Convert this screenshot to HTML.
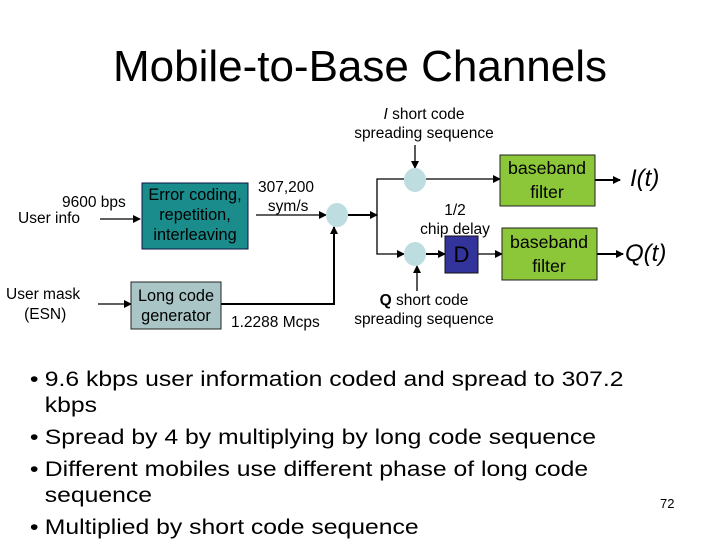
<html><head><style>
body{margin:0;width:720px;height:540px;background:#fff;position:relative;overflow:hidden;font-family:"Liberation Sans",sans-serif}
.t{position:absolute;white-space:nowrap;color:#000}
.b{position:relative;padding-left:12px;margin-bottom:6px}
.b span{position:absolute;left:-1px;top:0}
</style></head><body>
<div class="t" style="left:0;width:720px;text-align:center;top:42px;font-size:44px">Mobile-to-Base Channels</div>
<svg width="720" height="540" style="position:absolute;left:0;top:0">
<defs><marker id="a" markerWidth="8" markerHeight="8" refX="7" refY="4" orient="auto" markerUnits="userSpaceOnUse"><path d="M0,0 L8,4 L0,8z"/></marker></defs>
<g stroke="#000" stroke-width="1.3" fill="none">
<line x1="100" y1="219" x2="140" y2="219" marker-end="url(#a)"/>
<line x1="256" y1="215" x2="326" y2="215" marker-end="url(#a)"/>
<line x1="98" y1="304" x2="131" y2="304" marker-end="url(#a)"/>
<polyline points="221,304 334,304 334,227" marker-end="url(#a)" stroke-width="2"/>
<line x1="348" y1="215" x2="377" y2="215" stroke-width="2" marker-end="url(#a)"/>
<polyline points="404,179 377,179 377,254 404,254" marker-end="url(#a)"/>
<line x1="415" y1="145" x2="415" y2="168" marker-end="url(#a)"/>
<line x1="426" y1="179" x2="500" y2="179" marker-end="url(#a)"/>
<line x1="417" y1="291" x2="417" y2="266" marker-end="url(#a)"/>
<line x1="426" y1="254" x2="445" y2="254" stroke-width="2" marker-end="url(#a)"/>
<line x1="478" y1="254" x2="502" y2="254" marker-end="url(#a)"/>
<line x1="595" y1="180" x2="620" y2="180" stroke-width="2" marker-end="url(#a)"/>
<line x1="597" y1="254" x2="623" y2="254" stroke-width="2" marker-end="url(#a)"/>
</g>
<rect x="142" y="183" width="106" height="66" fill="#1a8c8c" stroke="#114" stroke-width="1"/>
<rect x="131" y="282" width="90" height="47" fill="#a9c5c5" stroke="#222" stroke-width="1"/>
<rect x="500" y="155" width="95" height="51" fill="#8cc739" stroke="#222" stroke-width="1"/>
<rect x="502" y="228" width="95" height="52" fill="#8cc739" stroke="#222" stroke-width="1"/>
<rect x="445" y="236" width="33" height="37" fill="#33339c" stroke="#111" stroke-width="1"/>
<ellipse cx="337" cy="215" rx="11" ry="12" fill="#bddde0"/>
<ellipse cx="415" cy="180" rx="11" ry="12" fill="#bddde0"/>
<ellipse cx="415" cy="254" rx="11" ry="12" fill="#bddde0"/>
</svg>
<div class="t" style="left:137px;width:116px;top:185px;font-size:16.3px;text-align:center;line-height:20px">Error coding,<br>repetition,<br>interleaving</div>
<div class="t" style="left:126px;width:100px;top:286px;font-size:16.3px;text-align:center;line-height:20px">Long code<br>generator</div>
<div class="t" style="left:497px;width:100px;top:156px;font-size:17.8px;text-align:center;line-height:24px">baseband<br>filter</div>
<div class="t" style="left:499px;width:100px;top:230px;font-size:17.8px;text-align:center;line-height:24px">baseband<br>filter</div>
<div class="t" style="left:445px;width:33px;top:242px;font-size:22px;text-align:center">D</div>
<div class="t" style="left:62px;top:194px;font-size:15.5px">9600 bps</div>
<div class="t" style="left:18px;top:210px;font-size:15.5px">User info</div>
<div class="t" style="left:6px;top:285px;font-size:15.5px;text-align:center;line-height:20px">User mask<br>&nbsp;(ESN)</div>
<div class="t" style="left:258px;top:178px;font-size:15.5px;text-align:center;line-height:19px">307,200<br>&nbsp;sym/s</div>
<div class="t" style="left:231px;top:314px;font-size:15.5px">1.2288 Mcps</div>
<div class="t" style="left:344px;top:105px;font-size:15.5px;text-align:center;line-height:19px;width:160px"><i>I</i> short code<br>spreading sequence</div>
<div class="t" style="left:344px;top:291px;font-size:15.5px;text-align:center;line-height:19px;width:160px"><b>Q</b> short code<br>spreading sequence</div>
<div class="t" style="left:415px;top:201px;font-size:15.5px;text-align:center;line-height:19px;width:80px">1/2<br>chip delay</div>
<div class="t" style="left:630px;top:165px;font-size:24px;font-style:italic">I(t)</div>
<div class="t" style="left:625px;top:240px;font-size:24px;font-style:italic">Q(t)</div>
<div class="t" style="left:31px;top:366px;font-size:21.5px;line-height:26px;white-space:normal;width:528px;transform:scaleX(1.15);transform-origin:0 0">
<div class="b"><span>•</span>9.6 kbps user information coded and spread to 307.2 kbps</div>
<div class="b"><span>•</span>Spread by 4 by multiplying by long code sequence</div>
<div class="b"><span>•</span>Different mobiles use different phase of long code sequence</div>
<div class="b"><span>•</span>Multiplied by short code sequence</div>
</div>
<div class="t" style="left:660px;top:496px;font-size:13px">72</div>
</body></html>
